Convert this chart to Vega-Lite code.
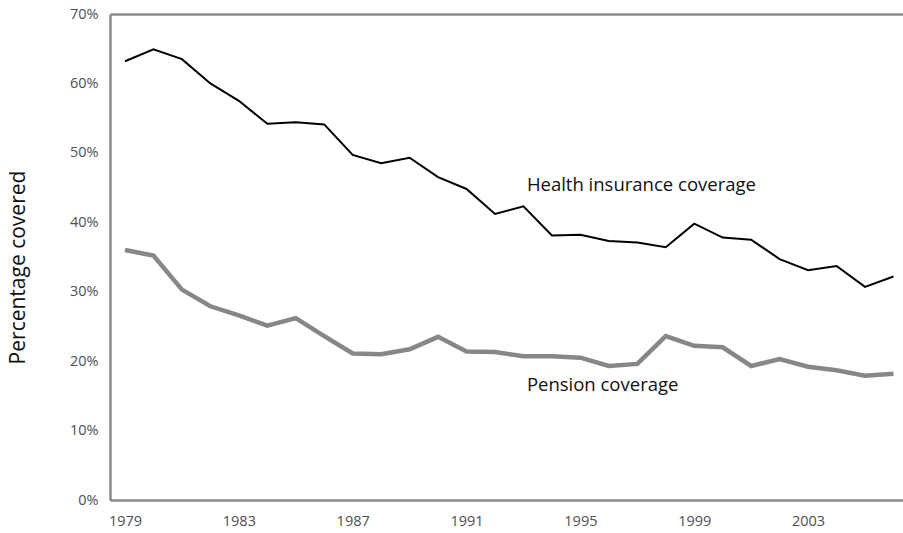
{
  "$schema": "https://vega.github.io/schema/vega-lite/v6.json",
  "width": 793,
  "height": 486,
  "autosize": {"type": "none"},
  "padding": {"left": 110, "top": 14, "right": 0, "bottom": 33},
  "background": "white",
  "config": {
    "view": {"stroke": null, "strokeWidth": 0},
    "font": "Open Sans",
    "axis": {"domain": false, "domainColor": "#8a8a8a", "domainWidth": 2.5, "ticks": false, "grid": false, "labelFont": "Open Sans", "labelColor": "#505050", "labelFontSize": 14.5, "titleFont": "Open Sans"}
  },
  "datasets": {
    "series": [
      {"year": 1979, "series": "Health", "value": 63.2},
      {"year": 1980, "series": "Health", "value": 64.9},
      {"year": 1981, "series": "Health", "value": 63.5},
      {"year": 1982, "series": "Health", "value": 60.0},
      {"year": 1983, "series": "Health", "value": 57.5},
      {"year": 1984, "series": "Health", "value": 54.2},
      {"year": 1985, "series": "Health", "value": 54.4},
      {"year": 1986, "series": "Health", "value": 54.1},
      {"year": 1987, "series": "Health", "value": 49.7},
      {"year": 1988, "series": "Health", "value": 48.5},
      {"year": 1989, "series": "Health", "value": 49.3},
      {"year": 1990, "series": "Health", "value": 46.5},
      {"year": 1991, "series": "Health", "value": 44.8},
      {"year": 1992, "series": "Health", "value": 41.2},
      {"year": 1993, "series": "Health", "value": 42.3},
      {"year": 1994, "series": "Health", "value": 38.1},
      {"year": 1995, "series": "Health", "value": 38.2},
      {"year": 1996, "series": "Health", "value": 37.3},
      {"year": 1997, "series": "Health", "value": 37.1},
      {"year": 1998, "series": "Health", "value": 36.4},
      {"year": 1999, "series": "Health", "value": 39.8},
      {"year": 2000, "series": "Health", "value": 37.8},
      {"year": 2001, "series": "Health", "value": 37.5},
      {"year": 2002, "series": "Health", "value": 34.7},
      {"year": 2003, "series": "Health", "value": 33.1},
      {"year": 2004, "series": "Health", "value": 33.7},
      {"year": 2005, "series": "Health", "value": 30.7},
      {"year": 2006, "series": "Health", "value": 32.2},
      {"year": 1979, "series": "Pension", "value": 36.0},
      {"year": 1980, "series": "Pension", "value": 35.2},
      {"year": 1981, "series": "Pension", "value": 30.3},
      {"year": 1982, "series": "Pension", "value": 27.9},
      {"year": 1983, "series": "Pension", "value": 26.6},
      {"year": 1984, "series": "Pension", "value": 25.1},
      {"year": 1985, "series": "Pension", "value": 26.2},
      {"year": 1986, "series": "Pension", "value": 23.6},
      {"year": 1987, "series": "Pension", "value": 21.1},
      {"year": 1988, "series": "Pension", "value": 21.0},
      {"year": 1989, "series": "Pension", "value": 21.7},
      {"year": 1990, "series": "Pension", "value": 23.5},
      {"year": 1991, "series": "Pension", "value": 21.4},
      {"year": 1992, "series": "Pension", "value": 21.3},
      {"year": 1993, "series": "Pension", "value": 20.7},
      {"year": 1994, "series": "Pension", "value": 20.7},
      {"year": 1995, "series": "Pension", "value": 20.5},
      {"year": 1996, "series": "Pension", "value": 19.3},
      {"year": 1997, "series": "Pension", "value": 19.6},
      {"year": 1998, "series": "Pension", "value": 23.6},
      {"year": 1999, "series": "Pension", "value": 22.2},
      {"year": 2000, "series": "Pension", "value": 22.0},
      {"year": 2001, "series": "Pension", "value": 19.3},
      {"year": 2002, "series": "Pension", "value": 20.3},
      {"year": 2003, "series": "Pension", "value": 19.2},
      {"year": 2004, "series": "Pension", "value": 18.7},
      {"year": 2005, "series": "Pension", "value": 17.9},
      {"year": 2006, "series": "Pension", "value": 18.2}
    ],
    "labels": [
      {"year": 1993.12, "value": 45.4, "text": "Health insurance coverage"},
      {"year": 1993.12, "value": 16.6, "text": "Pension coverage"}
    ]
  },
  "resolve": {"axis": {"x": "independent"}},
  "layer": [
    {
      "data": {"name": "series"},
      "mark": {"type": "line", "strokeJoin": "miter"},
      "encoding": {
        "x": {
          "field": "year", "type": "quantitative",
          "scale": {"domain": [1978.473, 2006.335], "nice": false, "zero": false},
          "axis": {"orient": "bottom", "domain": true, "values": [1979, 1983, 1987, 1991, 1995, 1999, 2003], "format": "d", "title": null, "labelPadding": 14}
        },
        "y": {
          "field": "value", "type": "quantitative",
          "scale": {"domain": [0, 70], "nice": false},
          "axis": {"orient": "left", "domain": true, "values": [0, 10, 20, 30, 40, 50, 60, 70], "labelExpr": "datum.value + '%'", "title": "Percentage covered", "titleFontSize": 21, "titleFontWeight": "normal", "titleColor": "#111", "titleAngle": -90, "titleBaseline": "middle", "titleAlign": "center", "titleX": -92, "titleY": 253, "labelPadding": 12}
        },
        "color": {"field": "series", "type": "nominal", "scale": {"domain": ["Health", "Pension"], "range": ["#000000", "#878787"]}, "legend": null},
        "strokeWidth": {"field": "series", "type": "nominal", "scale": {"domain": ["Health", "Pension"], "range": [2, 4.5]}, "legend": null}
      }
    },
    {
      "data": {"name": "labels"},
      "mark": {"type": "text", "align": "left", "baseline": "middle", "fontSize": 18.5, "color": "#111", "font": "Open Sans"},
      "encoding": {
        "x": {"field": "year", "type": "quantitative", "axis": {"orient": "top", "domain": true, "labels": false, "title": null}},
        "y": {"field": "value", "type": "quantitative"},
        "text": {"field": "text"}
      }
    }
  ]
}
